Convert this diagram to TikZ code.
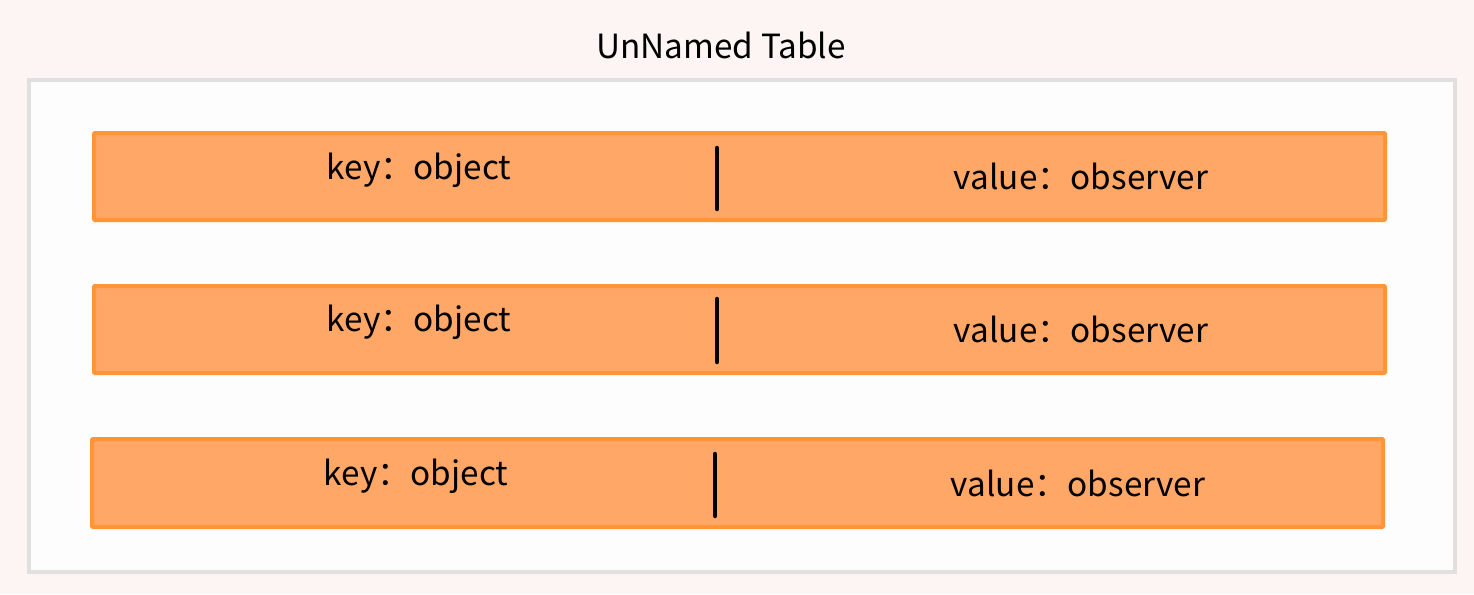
\documentclass[tikz,border=0pt]{standalone}
\usepackage{fontspec}
\setmainfont{Noto Sans CJK SC}
\definecolor{pagebg}{HTML}{FDF4F4}
\definecolor{framefill}{HTML}{FEFDFD}
\definecolor{framedraw}{HTML}{E2DFDF}
\definecolor{rowfill}{HTML}{FFA766}
\definecolor{rowdraw}{HTML}{FF9537}
\tikzset{
  frame/.style={draw=framedraw, fill=framefill, line width=4pt},
  rowbox/.style={draw=rowdraw, fill=rowfill, line width=4pt, rounded corners=1pt},
  celltext/.style={font=\fontsize{33.3}{38}\selectfont, text=black, inner sep=0pt},
  divider/.style={line width=4.5pt, line cap=round, black},
  titletext/.style={font=\fontsize{33.3}{38}\selectfont, text=black, inner sep=0pt}
}
\begin{document}
\begin{tikzpicture}[x=1pt, y=-1pt]
  \fill[pagebg] (0,0) rectangle (1474,594);
  \useasboundingbox (0,0) rectangle (1474,594);

  % table title and outer frame
  \node[titletext] (title) at (721,45) {UnNamed Table};
  \draw[frame] (29,80) rectangle (1455,572);

  % rows: key and value separated by a vertical bar
  \foreach \i/\xl/\xr/\yt/\yb/\kx/\ky/\vx/\vy/\bx/\bt/\bb in {
      1/94/1385/133/220/419/170/1081/176/717/148/209,
      2/94/1385/286/373/419/322/1081/329/717/299/362,
      3/92/1383/439/527/416/476/1078/483/715/454/516} {
    \draw[rowbox] (\xl,\yt) rectangle (\xr,\yb);
    \node[celltext] (key\i) at (\kx,\ky) {key：object};
    \node[celltext] (val\i) at (\vx,\vy) {value：observer};
    \coordinate (bartop\i) at (\bx,\bt);
    \coordinate (barbot\i) at (\bx,\bb);
    \draw[divider] (bartop\i) -- (barbot\i);
  }
\end{tikzpicture}
\end{document}
